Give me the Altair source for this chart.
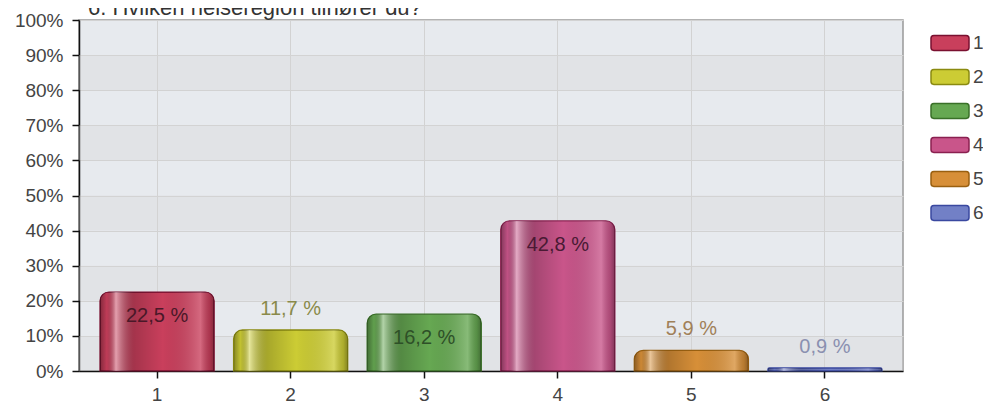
import altair as alt
import pandas as pd

# ---- data ----
title_text = "6. Hvilken helseregion tilhører du?"
categories = ["1", "2", "3", "4", "5", "6"]
values = [22.5, 11.7, 16.2, 42.8, 5.9, 0.9]
value_labels = ["22,5 %", "11,7 %", "16,2 %", "42,8 %", "5,9 %", "0,9 %"]
y_ticks = [0, 10, 20, 30, 40, 50, 60, 70, 80, 90, 100]
grey_band_starts = [0, 20, 40, 60, 80]

# ---- styles ----
fill_colors = ["#c93f5c", "#cccc34", "#66a852", "#c9558a", "#d78f38", "#7280c6"]
stroke_colors = ["#7a1030", "#8a8a10", "#3a7028", "#8a2050", "#9a6010", "#3a48a0"]
label_colors = ["#4a1828", "#8a8a4a", "#2e5028", "#4a1a34", "#a08058", "#8a90b0"]
FONT = "Liberation Sans"

df = pd.DataFrame({"cat": categories, "value": values, "label": value_labels})
bands = pd.DataFrame({"lo": grey_band_starts, "hi": [b + 10 for b in grey_band_starts]})

x_scale = alt.Scale(domain=categories, paddingInner=0.145, paddingOuter=0.157)
x_axis = alt.Axis(
    title=None, labelAngle=0, grid=True, bandPosition=0.5,
    gridColor="#d2d2d2", gridWidth=1,
    domainColor="#111", domainWidth=1.5,
    tickColor="#111", tickSize=7, tickWidth=1.5,
    labelFont=FONT, labelFontSize=19, labelColor="#444", labelPadding=7,
)
y_scale = alt.Scale(domain=[0, 100], nice=False)
y_axis = alt.Axis(
    title=None, values=y_ticks, labelExpr="datum.value + '%'",
    labelOverlap=False,
    grid=True, gridColor="#d2d2d2", gridWidth=1,
    domainColor="#111", domainWidth=1.5,
    tickColor="#111", tickSize=7, tickWidth=1.5,
    labelFont=FONT, labelFontSize=19, labelColor="#444", labelPadding=9,
)


def xe():
    return alt.X("cat:N", scale=x_scale, axis=x_axis)


def ye():
    return alt.Y("value:Q", scale=y_scale, axis=y_axis)


band_layer = alt.Chart(bands).mark_rect(color="#d6d6d6", opacity=0.35).encode(
    y=alt.Y("lo:Q", scale=y_scale, axis=y_axis),
    y2="hi:Q",
)

legend = alt.Legend(
    title=None, orient="none", legendX=851, legendY=3,
    symbolType="M-0.85,-0.39 H0.85 A0.15,0.15 0 0 1 1,-0.24 V0.24 A0.15,0.15 0 0 1 0.85,0.39 "
               "H-0.85 A0.15,0.15 0 0 1 -1,0.24 V-0.24 A0.15,0.15 0 0 1 -0.85,-0.39 Z",
    symbolSize=1444, symbolStrokeWidth=1.5, symbolOpacity=1,
    labelFont=FONT, labelFontSize=19, labelColor="#444", labelOffset=3,
    rowPadding=3,
)

bars = alt.Chart(df).mark_bar(
    cornerRadiusTopLeft=9, cornerRadiusTopRight=9, strokeWidth=1.2
).encode(
    x=xe(),
    y=ye(),
    fill=alt.Fill("cat:N", scale=alt.Scale(domain=categories, range=fill_colors), legend=legend),
    stroke=alt.Stroke("cat:N", scale=alt.Scale(domain=categories, range=stroke_colors), legend=legend),
)

shine = alt.Gradient(
    gradient="linear", x1=0, x2=1, y1=0, y2=0,
    stops=[
        alt.GradientStop(color="rgba(0,0,0,0.35)", offset=0),
        alt.GradientStop(color="rgba(0,0,0,0.05)", offset=0.06),
        alt.GradientStop(color="rgba(255,255,255,0.5)", offset=0.14),
        alt.GradientStop(color="rgba(0,0,0,0.18)", offset=0.3),
        alt.GradientStop(color="rgba(0,0,0,0.0)", offset=0.55),
        alt.GradientStop(color="rgba(255,255,255,0.22)", offset=0.88),
        alt.GradientStop(color="rgba(0,0,0,0.15)", offset=0.96),
        alt.GradientStop(color="rgba(0,0,0,0.35)", offset=1),
    ],
)
shine_layer = alt.Chart(df).mark_bar(
    cornerRadiusTopLeft=9, cornerRadiusTopRight=9, fill=shine
).encode(x=xe(), y=ye())

text_base = alt.Chart(df).encode(
    x=xe(),
    y=ye(),
    text="label:N",
    color=alt.Color("cat:N", scale=alt.Scale(domain=categories, range=label_colors), legend=None),
)
inside = text_base.transform_filter("datum.value >= 15").mark_text(
    font=FONT, fontSize=20, dy=24, baseline="middle"
)
above = text_base.transform_filter("datum.value < 15").mark_text(
    font=FONT, fontSize=20, dy=-21, baseline="middle"
)

chart = alt.layer(band_layer, bars, shine_layer, inside, above).properties(
    width=824,
    height=351,
    autosize=alt.AutoSizeParams(type="none"),
    padding={"left": 71, "top": 12, "right": 80, "bottom": 35},
    title=alt.TitleParams(
        text=title_text, anchor="start", frame="group", fontSize=22, font=FONT,
        fontWeight="normal", color="#333", dx=9, dy=13,
    ),
).configure_view(
    fill="#e7eaee", stroke="#999", strokeWidth=1.5
).configure_axis(
    labelOverlap=False
).configure_axisY(
    labelOverlap=False
)

chart.save("out.html", embed_options={"renderer": "svg", "actions": False})
